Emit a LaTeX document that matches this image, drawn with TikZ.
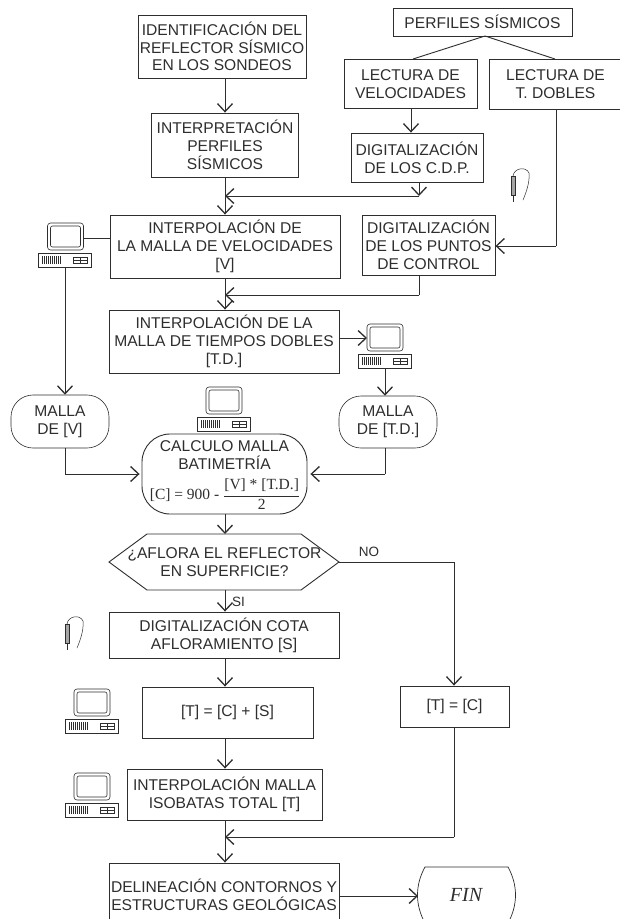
\documentclass[tikz,border=0pt]{standalone}
\usepackage{fontspec}
\setmainfont{Liberation Sans}
\newfontfamily\serifface{Liberation Serif}
\usetikzlibrary{arrows.meta}
\definecolor{ink}{gray}{0.18}
\tikzset{
  x=1pt,y=-1pt,
  flowbox/.style={draw=ink,line width=0.9pt,inner sep=0pt,align=center,font=\fontsize{15.6}{17.7}\selectfont,text=ink},
  roundbox/.style={flowbox,line width=0.6pt,rounded corners=22pt},
  link/.style={draw=ink,line width=0.9pt},
  flow/.style={link,-{Straight Barb[length=8pt,width=15pt,line width=1.3pt]}},
  lab/.style={text=ink,font=\fontsize{13.5}{15}\selectfont,inner sep=0pt},
  pcpart/.style={draw=ink,line width=0.6pt},
  computer/.pic={
    \draw[pcpart,rounded corners=3pt] (9,0) rectangle (45,27);
    \draw[pcpart,rounded corners=2pt] (12,3) rectangle (42,24);
    \draw[pcpart,line width=0.8pt] (0,30) rectangle (53,44);
    \foreach \i in {4,6,...,22}{\draw[draw=ink,line width=0.9pt] (\i,33)--(\i,41);}
    \draw[pcpart] (35,34) rectangle (49,40);
    \draw[pcpart] (35,37)--(49,37) (42,34)--(42,40);
  },
  penpic/.pic={
    \draw[pcpart,fill=gray!70] (0,6) rectangle (4,25);
    \draw[pcpart,line width=0.8pt] (2,25)--(2,32);
    \draw[draw=ink,line width=0.5pt] (2,6) .. controls (3,-2) and (15,-4) .. (18,3) .. controls (19,12) and (15,23) .. (12,30);
  }
}
\begin{document}
\begin{tikzpicture}
\useasboundingbox (0,0) rectangle (620,919);
\clip (0,0) rectangle (620,919);
\fill[white] (0,0) rectangle (620,919);
% boxes
\node[flowbox,minimum width=168pt,minimum height=63pt] (ident) at (222,46.5) {IDENTIFICACIÓN DEL\\REFLECTOR SÍSMICO\\EN LOS SONDEOS};
\node[flowbox,minimum width=147pt,minimum height=64pt] (interp) at (225,145) {INTERPRETACIÓN\\PERFILES\\SÍSMICOS};
\node[flowbox,minimum width=230pt,minimum height=63pt] (vel) at (225,246.5) {INTERPOLACIÓN DE\\LA MALLA DE VELOCIDADES\\{}[V]};
\node[flowbox,minimum width=230pt,minimum height=63pt] (td) at (224,341.5) {INTERPOLACIÓN DE LA\\MALLA DE TIEMPOS DOBLES\\{}[T.D.]};
\node[flowbox,minimum width=179pt,minimum height=28pt] (perf) at (482.5,22) {PERFILES SÍSMICOS};
\node[flowbox,minimum width=133pt,minimum height=49pt] (lvel) at (410.5,84) {LECTURA DE\\VELOCIDADES};
\node[flowbox,minimum width=133pt,minimum height=50pt] (ltd) at (555.5,84) {LECTURA DE\\T. DOBLES};
\node[flowbox,minimum width=132pt,minimum height=49pt] (dcdp) at (417,157.5) {DIGITALIZACIÓN\\DE LOS C.D.P.};
\node[flowbox,minimum width=133pt,minimum height=60pt] (dpc) at (428.5,245) {DIGITALIZACIÓN\\DE LOS PUNTOS\\DE CONTROL};
\node[roundbox,minimum width=98pt,minimum height=53pt] (mv) at (60,421.5) {MALLA\\DE [V]};
\node[roundbox,minimum width=98pt,minimum height=52pt] (mtd) at (388,422) {MALLA\\DE [T.D.]};
\node[flowbox,rounded corners=28pt,minimum width=165pt,minimum height=80pt] (calc) at (224.5,474) {};
\node[flowbox,draw=none,anchor=north] (calctxt) at (224.5,440) {CALCULO MALLA\\BATIMETRÍA};
\node[text=ink,inner sep=0pt,font=\serifface\fontsize{15.5}{17}\selectfont] (fmla) at (225,494) {[C] = 900 - $\displaystyle\frac{\mbox{\serifface\fontsize{15.5}{17}\selectfont [V] * [T.D.]}}{\mbox{\serifface\fontsize{15.5}{17}\selectfont 2}}$};
\coordinate (hl) at (109,562);\coordinate (hr) at (339,562);
\draw[link] (hl)--(147,534)--(301,534)--(hr)--(301,590)--(147,590)--cycle;
\coordinate (htop) at (225,534);\coordinate (hbot) at (225,590);
\node[flowbox,draw=none] (htxt) at (224.5,562) {¿AFLORA EL REFLECTOR\\EN SUPERFICIE?};
\node[lab] (no) at (369,552) {NO};
\node[lab] (si) at (238.5,602) {SI};
\node[flowbox,minimum width=230pt,minimum height=46pt] (cota) at (224,635) {DIGITALIZACIÓN COTA\\AFLORAMIENTO [S]};
\node[flowbox,minimum width=171pt,minimum height=51pt] (tcs) at (227.5,712.5) {[T] = [C] + [S]};
\node[flowbox,minimum width=195pt,minimum height=51pt] (iso) at (224.5,794.5) {INTERPOLACIÓN MALLA\\ISOBATAS TOTAL [T]};
\node[flowbox,minimum width=109pt,minimum height=41pt] (tc) at (454.5,706.5) {[T] = [C]};
\node[flowbox,minimum width=230pt,minimum height=64pt] (del) at (224,895) {DELINEACIÓN CONTORNOS Y\\ESTRUCTURAS GEOLÓGICAS};
\coordinate (finl) at (418,896);
\draw[link,line width=0.7pt] (425,867) -- (508,867) .. controls (518,885) and (518,905) .. (508,923) -- (425,923) .. controls (415,905) and (415,885) .. (425,867) -- cycle;
\node[text=ink,inner sep=0pt,font=\serifface\itshape\fontsize{20}{22}\selectfont] (fin) at (466,895) {FIN};
% icons
\pic at (38.5,223) {computer};
\pic at (358,324) {computer};
\pic at (197,387) {computer};
\pic at (65,689) {computer};
\pic at (65,773) {computer};
\pic at (511,170) {penpic};
\pic at (65,618) {penpic};
% connectors
\coordinate (vx) at (225,0);
\draw[flow] (ident.south -| vx) -- (interp.north -| vx);
\draw[flow] (interp.south -| vx) -- (vel.north -| vx);
\coordinate (j1) at (419,196);
\draw[flow] (dcdp.south -| j1) -- (j1);
\draw[flow] (j1) -- (vx |- j1);
\draw[flow] (vel.south -| vx) -- (td.north -| vx);
\coordinate (j2) at (419,295);
\draw[link] (dpc.south -| j2) -- (j2);
\draw[flow] (j2) -- (vx |- j2);
\coordinate (pa) at (485,36);
\coordinate (pb) at (413,59);
\coordinate (pc) at (555,59);
\draw[link] (pa) -- (pb);
\draw[link] (pa) -- (pc);
\coordinate (lv) at (411,0);
\draw[flow] (lvel.south -| lv) -- (dcdp.north -| lv);
\coordinate (j3) at (556,246);
\draw[link] (ltd.south -| j3) -- (j3);
\draw[flow] (j3) -- (dpc.east |- j3);
\coordinate (c1) at (83,238);
\coordinate (c2) at (65,267);
\draw[link,line width=0.6pt] (c1) -- (vel.west |- c1);
\draw[flow] (c2) -- (mv.north -| c2);
\coordinate (j4) at (65,474);
\draw[link] (mv.south -| j4) -- (j4);
\draw[flow,shorten >=2pt] (j4) -- (calc.west |- j4);
\coordinate (c3) at (367,338);
\draw[flow] (td.east |- c3) -- (c3);
\coordinate (c4) at (385,368);
\draw[flow] (c4) -- (mtd.north -| c4);
\coordinate (j5) at (385,474);
\draw[link] (mtd.south -| j5) -- (j5);
\draw[flow,shorten >=3pt] (j5) -- (calc.east |- j5);
\draw[flow] (calc.south -| vx) -- (htop);
\draw[flow] (hbot) -- (hbot |- cota.north);
\draw[flow] (cota.south -| hbot) -- (tcs.north -| hbot);
\draw[flow] (tcs.south -| hbot) -- (iso.north -| hbot);
\draw[flow] (iso.south -| vx) -- (del.north -| vx);
\coordinate (k1) at (454,562);
\draw[link] (hr) -- (k1);
\draw[flow] (k1) -- (tc.north -| k1);
\coordinate (j6) at (454,837);
\draw[link] (tc.south -| j6) -- (j6);
\draw[flow] (j6) -- (vx |- j6);
\draw[flow] (del.east |- finl) -- (finl);
\end{tikzpicture}
\end{document}
